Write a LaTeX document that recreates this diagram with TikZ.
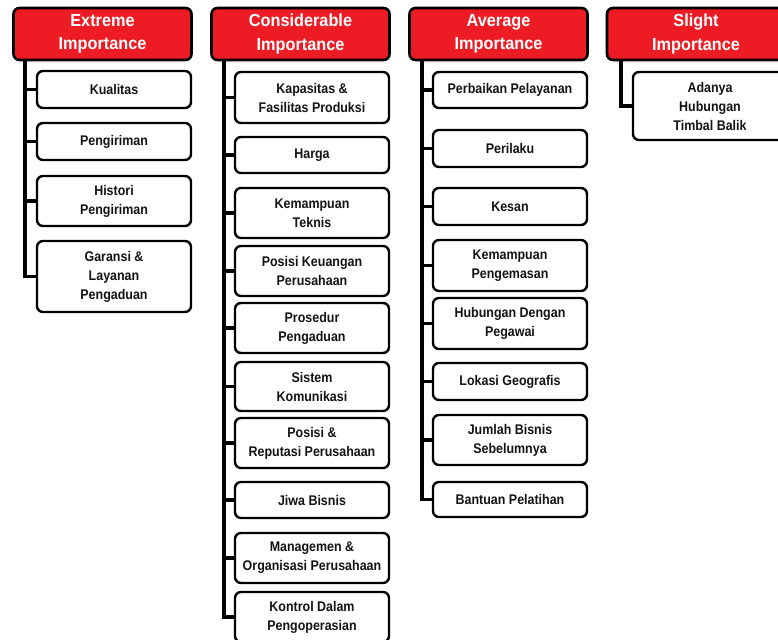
\documentclass[tikz,border=0pt]{standalone}
\usepackage{fontspec}
\setmainfont{Liberation Sans}[FakeStretch=0.89]
\newfontfamily\headfont{Liberation Sans}[FakeStretch=0.93]
\definecolor{hdred}{RGB}{237,28,36}
\definecolor{txtc}{RGB}{20,20,20}
\tikzset{
  hdr/.style={draw=black, line width=2.6pt, rounded corners=6pt, fill=hdred, text=white,
    minimum width=178pt, minimum height=52pt, inner sep=0pt, align=center,
    font=\headfont\fontsize{17.5}{23.5}\selectfont\bfseries},
  item/.style={draw=black, line width=2.4pt, rounded corners=6pt, fill=white, text=txtc,
    minimum width=154pt, inner sep=0pt, align=center,
    font=\fontsize{14}{19}\selectfont\bfseries},
  conn/.style={draw=black, line width=3.4pt}
}
\begin{document}
\begin{tikzpicture}[x=1pt,y=-1pt]
\useasboundingbox (0,0) rectangle (778,639);
% Column 1
\node[hdr] (h1) at (102.5,34) {Extreme\\Importance};
\node[item, minimum height=37pt] (a1) at (114,89.5) {Kualitas};
\node[item, minimum height=37pt] (a2) at (114,141.5) {Pengiriman};
\node[item, minimum height=50pt] (a3) at (114,201) {Histori\\Pengiriman};
\node[item, minimum height=71pt] (a4) at (114,276.5) {Garansi \&\\Layanan\\Pengaduan};
\coordinate (t1) at (25,60);
% Column 2
\node[hdr] (h2) at (300.5,34) {Considerable\\Importance};
\node[item, minimum height=51pt] (b1) at (312,97.5) {Kapasitas \&\\Fasilitas Produksi};
\node[item, minimum height=36pt] (b2) at (312,155) {Harga};
\node[item, minimum height=50pt] (b3) at (312,213) {Kemampuan\\Teknis};
\node[item, minimum height=50pt] (b4) at (312,271) {Posisi Keuangan\\Perusahaan};
\node[item, minimum height=50pt] (b5) at (312,328) {Prosedur\\Pengaduan};
\node[item, minimum height=49pt] (b6) at (312,386.5) {Sistem\\Komunikasi};
\node[item, minimum height=50pt] (b7) at (312,443) {Posisi \&\\Reputasi Perusahaan};
\node[item, minimum height=36pt] (b8) at (312,500) {Jiwa Bisnis};
\node[item, minimum height=50pt] (b9) at (312,558) {Managemen \&\\Organisasi Perusahaan};
\node[item, minimum height=50pt] (b10) at (312,617) {Kontrol Dalam\\Pengoperasian};
\coordinate (t2) at (224,60);
% Column 3
\node[hdr] (h3) at (498.5,34) {Average\\Importance};
\node[item, minimum height=36pt] (c1) at (510,90) {Perbaikan Pelayanan};
\node[item, minimum height=37pt] (c2) at (510,148.5) {Perilaku};
\node[item, minimum height=37pt] (c3) at (510,206.5) {Kesan};
\node[item, minimum height=51pt] (c4) at (510,265.5) {Kemampuan\\Pengemasan};
\node[item, minimum height=51pt] (c5) at (510,323.5) {Hubungan Dengan\\Pegawai};
\node[item, minimum height=37pt] (c6) at (510,381.5) {Lokasi Geografis};
\node[item, minimum height=50pt] (c7) at (510,440) {Jumlah Bisnis\\Sebelumnya};
\node[item, minimum height=35pt] (c8) at (510,499.5) {Bantuan Pelatihan};
\coordinate (t3) at (422,60);
% Column 4
\node[hdr] (h4) at (696,34) {Slight\\Importance};
\node[item, minimum height=68pt] (d1) at (710,106) {Adanya\\Hubungan\\Timbal Balik};
\coordinate (t4) at (621,60);
% Connectors
\foreach \n in {a1,a2,a3,a4} \draw[conn] (t1) |- (\n.west);
\foreach \n in {b1,b2,b3,b4,b5,b6,b7,b8,b9,b10} \draw[conn] (t2) |- (\n.west);
\foreach \n in {c1,c2,c3,c4,c5,c6,c7,c8} \draw[conn] (t3) |- (\n.west);
\draw[conn] (t4) |- (d1.west);
\end{tikzpicture}
\end{document}
